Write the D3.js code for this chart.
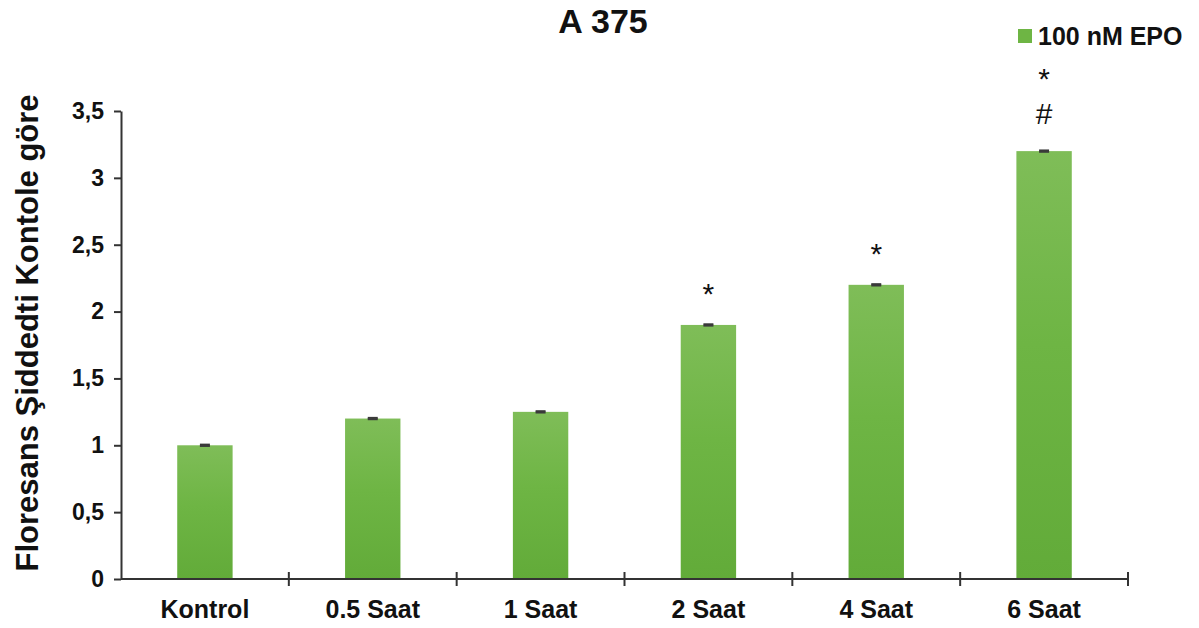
<!DOCTYPE html>
<html>
<head>
<meta charset="utf-8">
<script src="https://cdn.jsdelivr.net/npm/d3@7"></script>
<style>
  html, body { margin: 0; padding: 0; background: #fff; }
  svg { display: block; font-family: "Liberation Sans", Arial, sans-serif; }
</style>
</head>
<body>
<svg id="chart" width="1199" height="628"></svg>
<script>
// Data: relative fluorescence intensity vs. control, 100 nM EPO
const categories = ["Kontrol", "0.5 Saat", "1 Saat", "2 Saat", "4 Saat", "6 Saat"];
const values = [1.0, 1.2, 1.25, 1.9, 2.2, 3.2];
const errors = [0.005, 0.005, 0.005, 0.005, 0.005, 0.005];
// Significance marks per bar, listed top to bottom
const marks = [[], [], [], ["*"], ["*"], ["*", "#"]];
const yTicks = [0, 0.5, 1, 1.5, 2, 2.5, 3, 3.5];
const seriesName = "100 nM EPO";
const title = "A 375";
const yLabel = "Floresans Şiddedti Kontole göre";

const svg = d3.select("#chart");
const margin = { left: 121, right: 71, top: 111, bottom: 49 };
const W = 1199, H = 628;

const x = d3.scaleBand().domain(categories).range([margin.left, W - margin.right]).padding(0);
const y = d3.scaleLinear().domain([0, 3.5]).range([H - margin.bottom, margin.top]);

// Bar fill gradient (lighter at the top)
const defs = svg.append("defs");
const grad = defs.append("linearGradient").attr("id", "barGrad")
  .attr("x1", 0).attr("y1", 0).attr("x2", 0).attr("y2", 1);
grad.append("stop").attr("offset", "0%").attr("stop-color", "#7fbd58");
grad.append("stop").attr("offset", "45%").attr("stop-color", "#6eb544");
grad.append("stop").attr("offset", "100%").attr("stop-color", "#62ab39");

const barW = x.bandwidth() * 0.33;
const cx = d => x(d) + x.bandwidth() / 2;

// Bars
svg.append("g").selectAll("rect").data(categories).join("rect")
  .attr("x", d => cx(d) - barW / 2)
  .attr("y", (d, i) => y(values[i]))
  .attr("width", barW)
  .attr("height", (d, i) => y(0) - y(values[i]))
  .attr("fill", "url(#barGrad)");

// Error bars
const eb = svg.append("g").attr("stroke", "#3a3a3a").attr("stroke-width", 2);
categories.forEach((c, i) => {
  const v = values[i], e = errors[i];
  eb.append("line").attr("x1", cx(c)).attr("x2", cx(c)).attr("y1", y(v - e)).attr("y2", y(v + e));
  eb.append("line").attr("x1", cx(c) - 5).attr("x2", cx(c) + 5).attr("y1", y(v + e)).attr("y2", y(v + e));
  eb.append("line").attr("x1", cx(c) - 5).attr("x2", cx(c) + 5).attr("y1", y(v - e)).attr("y2", y(v - e));
});

// Y axis
const yAxis = svg.append("g").attr("transform", `translate(${margin.left},0)`)
  .call(d3.axisLeft(y).tickValues(yTicks).tickSize(7).tickSizeOuter(0).tickPadding(10)
    .tickFormat(d => String(d).replace(".", ",")));
yAxis.selectAll("path, line").attr("stroke", "#333").attr("stroke-width", 2);
yAxis.selectAll("text").attr("font-size", 23).attr("font-weight", "bold").attr("fill", "#111")
  .attr("font-family", "Liberation Sans, Arial, sans-serif");

// X axis: line at the baseline, ticks between categories
const xAxisG = svg.append("g").attr("transform", `translate(0,${y(0)})`);
xAxisG.append("line").attr("x1", x.range()[0]).attr("x2", x.range()[1])
  .attr("y1", 0).attr("y2", 0).attr("stroke", "#333").attr("stroke-width", 2);
const bounds = categories.map(c => x(c)).slice(1).concat([x.range()[1]]);
xAxisG.selectAll("line.tick").data(bounds).join("line").attr("class", "tick")
  .attr("x1", d => d).attr("x2", d => d).attr("y1", -7).attr("y2", 7)
  .attr("stroke", "#333").attr("stroke-width", 2);
xAxisG.selectAll("text").data(categories).join("text")
  .attr("x", d => cx(d)).attr("y", 39)
  .attr("text-anchor", "middle").attr("font-size", 25).attr("font-weight", "bold").attr("fill", "#111")
  .text(d => d);

// Significance marks above bars, one text per mark
const markSize = 30;
const ann = svg.append("g").attr("font-size", markSize).attr("fill", "#111").attr("text-anchor", "middle");
categories.forEach((c, i) => {
  const m = marks[i];
  const lineGap = 42;
  const lastCentre = y(values[i] + errors[i]) - 37;
  // asterisk glyph sits high, hash sits on the baseline
  const baseOf = (s, centre) => s === "*" ? centre + 0.57 * markSize : centre + 0.345 * markSize;
  m.forEach((s, k) => {
    const centre = lastCentre - (m.length - 1 - k) * lineGap;
    ann.append("text").attr("x", cx(c)).attr("y", baseOf(s, centre)).text(s);
  });
});

// Title
svg.append("text").attr("x", 603).attr("y", 33).attr("text-anchor", "middle")
  .attr("font-size", 34).attr("font-weight", "bold").attr("fill", "#111").text(title);

// Legend
const lg = svg.append("g").attr("transform", "translate(1018,29)");
lg.append("rect").attr("width", 14).attr("height", 14).attr("fill", "#6eb544");
lg.append("text").attr("x", 20).attr("y", 16).attr("font-size", 25).attr("font-weight", "bold")
  .attr("fill", "#111").text(seriesName);

// Y axis title
svg.append("text")
  .attr("transform", `translate(38,${(y(0) + y(3.5)) / 2 - 12}) rotate(-90)`)
  .attr("text-anchor", "middle").attr("font-size", 31).attr("font-weight", "bold").attr("fill", "#111")
  .text(yLabel);
</script>
</body>
</html>
